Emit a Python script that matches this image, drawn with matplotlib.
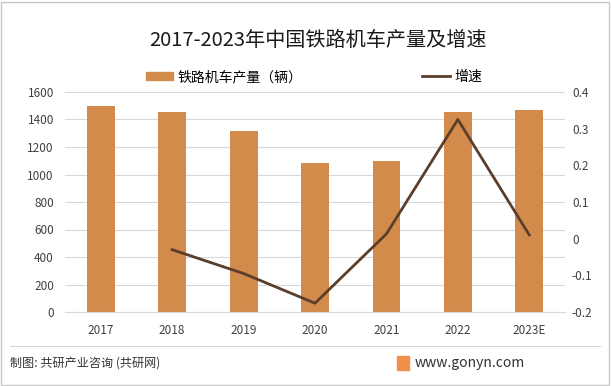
import matplotlib.pyplot as plt
import matplotlib.patches as mpatches
from matplotlib.lines import Line2D

plt.rcParams['font.family'] = ['Noto Sans CJK SC', 'DejaVu Sans']

years = ['2017', '2018', '2019', '2020', '2021', '2022', '2023E']
output = [1500, 1455, 1316, 1084, 1098, 1455, 1469]
growth_years = ['2018', '2019', '2020', '2021', '2022', '2023E']
growth = [-0.03, -0.095, -0.176, 0.013, 0.325, 0.01]

bar_color = '#D38B4C'
line_color = '#5B3E2B'
W, H = 611, 386

fig = plt.figure(figsize=(W / 100, H / 100), dpi=100)
ax = fig.add_axes([65 / W, 1 - 312 / H, 500 / W, 220 / H])
x = list(range(len(years)))
ax.bar(x, output, width=0.39, color=bar_color, zorder=2)
ax.set_ylim(0, 1600)
ax.set_yticks(range(0, 1601, 200))
ax.set_xlim(-0.5, len(years) - 0.5)
ax.set_xticks(x)
ax.set_xticklabels(years)
ax.grid(axis='y', color='#D9D9D9', linewidth=0.8, zorder=0)
for s in ax.spines.values():
    s.set_visible(False)
ax.spines['bottom'].set_visible(True)
ax.spines['bottom'].set_color('#D9D9D9')
ax.tick_params(axis='both', length=0, labelsize=8.5, colors='#404040')
ax.tick_params(axis='x', pad=9)
ax.tick_params(axis='y', pad=8)

ax2 = ax.twinx()
gx = [years.index(y) for y in growth_years]
ax2.plot(gx, growth, color=line_color, linewidth=2, zorder=3)
ax2.set_ylim(-0.2, 0.4)
ax2.set_yticks([-0.2, -0.1, 0, 0.1, 0.2, 0.3, 0.4])
ax2.set_yticklabels(['-0.2', '-0.1', '0', '0.1', '0.2', '0.3', '0.4'])
for s in ax2.spines.values():
    s.set_visible(False)
ax2.tick_params(axis='y', length=0, labelsize=8.5, colors='#404040', pad=5)

fig.text(0.52, 1 - 40 / H, '2017-2023年中国铁路机车产量及增速', ha='center', va='center',
         fontsize=14.5, color='#1a1a1a')

handles = [mpatches.Patch(color=bar_color), Line2D([], [], color=line_color, linewidth=2)]
fig.legend([handles[0]], ['铁路机车产量（辆）'], loc='center left',
           bbox_to_anchor=(133 / W, 1 - 77 / H), frameon=False, fontsize=10,
           handlelength=2.0, handleheight=0.5, handletextpad=0.3)
fig.legend([handles[1]], ['增速'], loc='center left',
           bbox_to_anchor=(410 / W, 1 - 77 / H), frameon=False, fontsize=10,
           handlelength=2.0, handletextpad=0.3)

fig.add_artist(Line2D([10 / W, 600 / W], [1 - 346 / H, 1 - 346 / H], color='#D9D9D9', linewidth=0.8))
fig.text(10 / W, 1 - 363 / H, '制图: 共研产业咨询 (共研网)', ha='left', va='center',
         fontsize=8.7, color='#333333')
fig.text(415 / W, 1 - 363 / H, 'www.gonyn.com', ha='left', va='center',
         fontsize=10, color='#333333')
fig.add_artist(mpatches.Rectangle((397 / W, 1 - 370 / H), 12 / W, 14 / H, color='#F0904A'))
fig.add_artist(mpatches.Rectangle((1 / W, 1 / H), 608 / W, 383 / H, fill=False,
                                  edgecolor='#C8C8C8', linewidth=1))

fig.savefig('out.png', dpi=100)
